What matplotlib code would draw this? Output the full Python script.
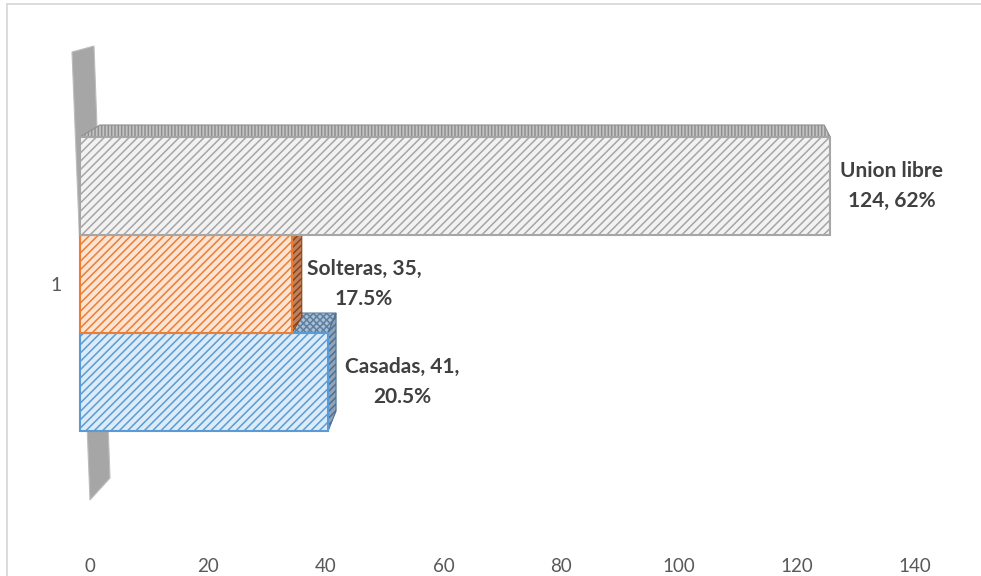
import matplotlib
matplotlib.use("Agg")
import matplotlib.pyplot as plt
from matplotlib.patches import Polygon
from matplotlib.lines import Line2D

# ---------------- data ----------------
categories = ["1"]
series = ["Casadas", "Solteras", "Union libre"]
values = [41, 35, 124]
percents = ["20.5%", "17.5%", "62%"]
label_texts = ["Casadas, 41,\n20.5%", "Solteras, 35,\n17.5%", "Union libre\n124, 62%"]
xticks = [0, 20, 40, 60, 80, 100, 120, 140]

# ---------------- style ----------------
W, H = 981, 576
front_face = ["#dcebf8", "#fce4d4", "#f2f2f2"]
front_edge = ["#5b9bd5", "#ed7d31", "#a6a6a6"]
top_face = ["#a9bfd6", "#c98f6a", "#c4c4c4"]
top_hatch = ["#5f7f9f", "#a0522d", "#8f8f8f"]
top_pattern = ["xxxxx", "xxxxx", "|||||"]
side_face = ["#8ea4ba", "#c08060", "#b0b0b0"]
side_hatch = ["#4f6f91", "#8b4513", "#7f7f7f"]
# depth (pixels): dx at left end, dx at right end, dy (negative = up)
depth = [(14, 8, -20), (12, 10, -16), (20, -6, -12)]
label_off = [17, 15, 10]

plt.rcParams["font.family"] = ["Lato", "DejaVu Sans"]
plt.rcParams["hatch.linewidth"] = 1.1

fig = plt.figure(figsize=(W / 100, H / 100), dpi=100)

# axes placement in pixels
L, R, T, B = 70, 960, 20, 548
pos = [L / W, 1 - B / H, (R - L) / W, (B - T) / H]

sx = 6.05      # px per unit for bars
zero_px = 80   # pixel of x=0 for bars
bh = 98.0      # px per bar height

ax = fig.add_axes(pos)
ax.set_xlim((L - zero_px) / sx, (R - zero_px) / sx)
ylim_top = (284 - T) / bh
ylim_bot = -(B - 284) / bh
ax.set_ylim(ylim_bot, ylim_top)
for s in ax.spines.values():
    s.set_visible(False)
ax.set_xticks([])
ax.set_yticks([0])
ax.set_yticklabels(categories, fontsize=14, color="#595959")
ax.tick_params(axis="y", length=0, pad=6)

# wall (decorative, figure pixels) drawn behind the bars
wall_px = [(72, 52), (94, 46), (110, 478), (90, 500)]
ax.add_patch(Polygon([(x / W, 1 - y / H) for x, y in wall_px],
                     closed=True, transform=fig.transFigure, clip_on=False,
                     facecolor="#a6a6a6", edgecolor="#bdbdbd", lw=0.8, zorder=0.5))

ypos = [-1, 0, 1]
for i, (v, y) in enumerate(zip(values, ypos)):
    z = 2 + i * 3
    dxl, dxr, dy = depth[i]
    ddxl, ddxr, ddy = dxl / sx, dxr / sx, -dy / bh
    top = y + 0.5
    bot = y - 0.5
    # top face
    ax.add_patch(Polygon([(0, top), (v, top), (v + ddxr, top + ddy), (0 + ddxl, top + ddy)],
                         closed=True, facecolor=top_face[i], edgecolor=top_hatch[i],
                         hatch=top_pattern[i], lw=0.8, zorder=z))
    # right side face
    if dxr > 0:
        ax.add_patch(Polygon([(v, top), (v + ddxr, top + ddy), (v + ddxr, bot + ddy), (v, bot)],
                             closed=True, facecolor=side_face[i], edgecolor=side_hatch[i],
                             hatch="/////", lw=0.8, zorder=z))
    # front face
    ax.barh(y, v, height=1.0, left=0, color=front_face[i], edgecolor=front_edge[i],
            hatch="////", linewidth=1.3, zorder=z + 1)
    # outline on top of hatch
    ax.barh(y, v, height=1.0, left=0, color="none", edgecolor=front_edge[i],
            linewidth=1.5, zorder=z + 1.5)
    ax.annotate(label_texts[i], xy=(v, y), xytext=(label_off[i], 0),
                textcoords="offset pixels", ha="left", va="center",
                multialignment="center", fontsize=15, fontweight="bold",
                color="#404040", linespacing=1.6, zorder=20)

# tick-label axis
ax2 = fig.add_axes(pos, frameon=False)
t0, t140 = 90, 915
sc = (t140 - t0) / 140
ax2.set_xlim((L - t0) / sc, (R - t0) / sc)
ax2.set_ylim(0, 1)
ax2.set_yticks([])
ax2.set_xticks(xticks)
ax2.set_xticklabels([str(t) for t in xticks], fontsize=13.5, color="#595959")
ax2.tick_params(axis="x", length=0, pad=7)
ax2.patch.set_alpha(0)

# chart border (top and left visible)
fig.lines.append(Line2D([7 / W, 1], [1 - 4 / H, 1 - 4 / H], transform=fig.transFigure,
                        color="#d9d9d9", lw=1.3))
fig.lines.append(Line2D([7 / W, 7 / W], [0, 1 - 4 / H], transform=fig.transFigure,
                        color="#d9d9d9", lw=1.3))

fig.savefig("out.png", dpi=100)
